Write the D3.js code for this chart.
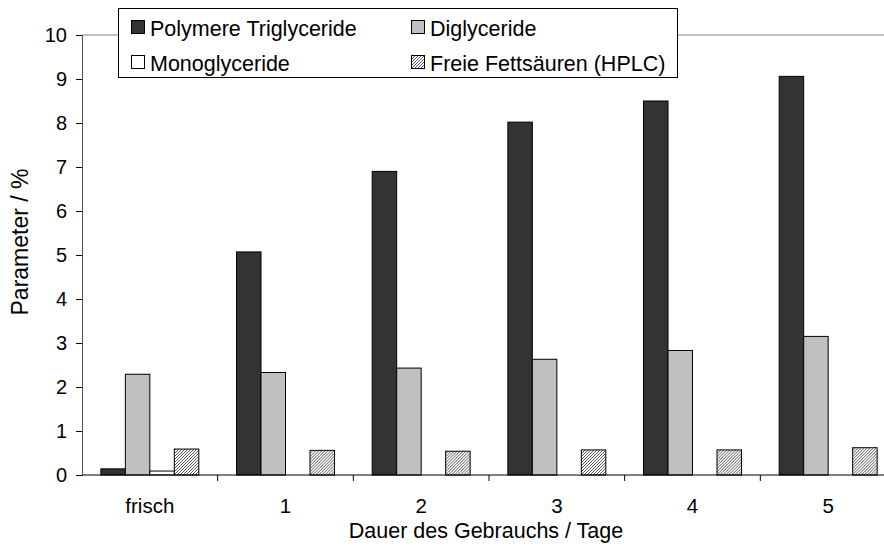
<!DOCTYPE html>
<html>
<head>
<meta charset="utf-8">
<script src="https://cdn.jsdelivr.net/npm/d3@7"></script>
<style>
  html, body { margin: 0; padding: 0; background: #fff; overflow: hidden; }
  svg { display: block; font-family: "Liberation Sans", Arial, sans-serif; }
</style>
</head>
<body>
<svg id="chart" width="884" height="546"></svg>
<script>
// Categories (days of use) and measured parameters in %
const categories = ["frisch", "1", "2", "3", "4", "5"];
const seriesNames = ["Polymere Triglyceride", "Diglyceride", "Monoglyceride", "Freie Fettsäuren (HPLC)"];
const polymere = [0.14, 5.07, 6.90, 8.02, 8.50, 9.06];
const diglyceride = [2.29, 2.33, 2.43, 2.63, 2.83, 3.15];
const monoglyceride = [0.09, 0, 0, 0, 0, 0];
const freieFS = [0.59, 0.56, 0.54, 0.57, 0.57, 0.62];
const yTicks = [0, 1, 2, 3, 4, 5, 6, 7, 8, 9, 10];

const seriesValues = [polymere, diglyceride, monoglyceride, freieFS];
const fills = ["#333333", "#c0c0c0", "#ffffff", "url(#hatch)"];

const svg = d3.select("#chart");

// diagonal hatch for the free fatty acid bars
const defs = svg.append("defs");
const pat = defs.append("pattern")
  .attr("id", "hatch").attr("patternUnits", "userSpaceOnUse")
  .attr("width", 3).attr("height", 3);
pat.append("rect").attr("width", 3).attr("height", 3).attr("fill", "#ffffff");
pat.append("path").attr("d", "M-1,1 l2,-2 M0,3 l3,-3 M2,4 l2,-2")
  .attr("stroke", "#444").attr("stroke-width", 0.9);

const plotLeft = 82, plotRight = 896, plotTop = 35, plotBottom = 475;

const x = d3.scaleBand().domain(categories).range([plotLeft, plotRight]).padding(0);
const xs = d3.scaleBand().domain(seriesNames).range([0, x.bandwidth()])
  .paddingInner(0).paddingOuter(0.77);
const y = d3.scaleLinear().domain([0, 10]).range([plotBottom, plotTop]);

// top line at the axis maximum
svg.append("line")
  .attr("x1", plotLeft).attr("x2", 884)
  .attr("y1", y(10)).attr("y2", y(10))
  .attr("stroke", "#808080").attr("stroke-width", 1);

// bars
const groups = svg.append("g").selectAll("g")
  .data(categories).join("g")
  .attr("transform", d => `translate(${x(d)},0)`);

groups.selectAll("rect")
  .data((c, ci) => seriesNames.map((s, si) => ({ s, si, v: seriesValues[si][ci] })).filter(d => d.v > 0))
  .join("rect")
  .attr("x", d => xs(d.s))
  .attr("width", xs.bandwidth())
  .attr("y", d => y(d.v))
  .attr("height", d => y(0) - y(d.v))
  .attr("fill", d => fills[d.si])
  .attr("stroke", "#000")
  .attr("stroke-width", 1);

// y axis
const yAxis = svg.append("g")
  .attr("transform", `translate(${plotLeft},0)`)
  .call(d3.axisLeft(y).tickValues(yTicks).tickSize(6).tickPadding(9).tickFormat(d3.format("d")));
yAxis.select(".domain").attr("stroke", "#555");
yAxis.selectAll(".tick line").attr("stroke", "#000");
yAxis.selectAll("text").attr("font-size", 20).attr("fill", "#000")
  .attr("font-family", "Liberation Sans, Arial, sans-serif");

// x axis with ticks between categories
const xAxisG = svg.append("g").attr("transform", `translate(0,${plotBottom})`);
xAxisG.append("line").attr("x1", plotLeft).attr("x2", 884)
  .attr("y1", 0).attr("y2", 0).attr("stroke", "#000");
xAxisG.selectAll(".sep")
  .data(categories.slice(1)).join("line")
  .attr("class", "sep")
  .attr("x1", d => x(d)).attr("x2", d => x(d))
  .attr("y1", 0).attr("y2", 6).attr("stroke", "#000");
xAxisG.selectAll(".lbl")
  .data(categories).join("text")
  .attr("class", "lbl")
  .attr("x", d => x(d) + x.bandwidth() / 2)
  .attr("y", 38)
  .attr("text-anchor", "middle")
  .attr("font-size", 20.5)
  .text(d => d);

// axis titles
svg.append("text")
  .attr("x", 486)
  .attr("y", 538)
  .attr("text-anchor", "middle")
  .attr("font-size", 21.5)
  .text("Dauer des Gebrauchs / Tage");

svg.append("text")
  .attr("transform", `translate(28,242) rotate(-90)`)
  .attr("text-anchor", "middle")
  .attr("font-size", 23)
  .text("Parameter / %");

// legend
const lg = svg.append("g");
lg.append("rect")
  .attr("x", 118.5).attr("y", 8.5).attr("width", 559).attr("height", 69)
  .attr("fill", "#fff").attr("stroke", "#000");
const legendPos = [[131, 28], [411, 28], [131, 63], [411, 63]];
seriesNames.forEach((s, i) => {
  const [lx, ly] = legendPos[i];
  lg.append("rect")
    .attr("x", lx + 0.5).attr("y", ly - 7.5).attr("width", 13).attr("height", 13)
    .attr("fill", fills[i]).attr("stroke", "#000");
  lg.append("text")
    .attr("x", lx + 19).attr("y", ly + 7.5)
    .attr("font-size", 21.5)
    .text(s);
});
</script>
</body>
</html>
